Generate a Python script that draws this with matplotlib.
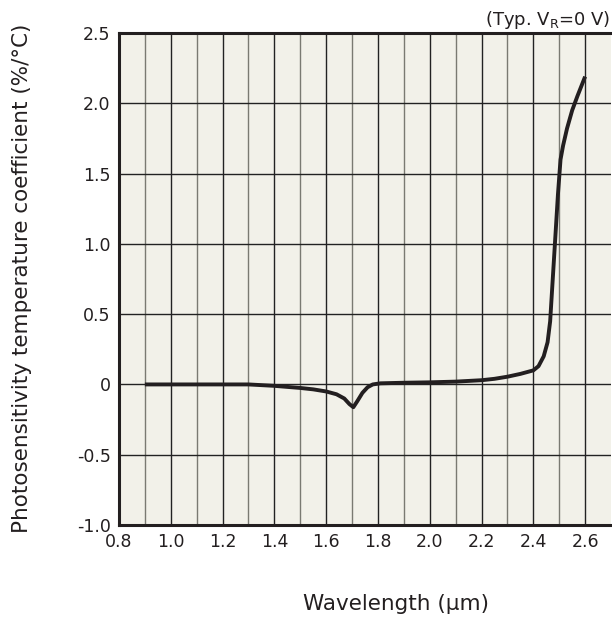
import matplotlib
matplotlib.use("Agg")
import matplotlib.pyplot as plt
import numpy as np

# curve
wavelength = [0.90, 1.00, 1.10, 1.20, 1.30, 1.40, 1.50, 1.55, 1.60, 1.64, 1.67, 1.69, 1.705,
              1.72, 1.74, 1.76, 1.78, 1.81, 1.90, 2.00, 2.10, 2.20, 2.25, 2.30, 2.35, 2.40,
              2.42, 2.44, 2.455, 2.465, 2.475, 2.485, 2.495, 2.505, 2.515, 2.53, 2.55,
              2.57, 2.585, 2.60]
coef = [0.0, 0.0, 0.0, 0.0, 0.0, -0.01, -0.025, -0.035, -0.05, -0.07, -0.10, -0.14, -0.162,
        -0.12, -0.06, -0.02, 0.0, 0.008, 0.012, 0.015, 0.02, 0.03, 0.04, 0.055, 0.075, 0.10,
        0.13, 0.20, 0.30, 0.45, 0.75, 1.05, 1.35, 1.60, 1.70, 1.82, 1.95,
        2.05, 2.12, 2.19]

xticks = [0.8, 1.0, 1.2, 1.4, 1.6, 1.8, 2.0, 2.2, 2.4, 2.6]
yticks = [-1.0, -0.5, 0, 0.5, 1.0, 1.5, 2.0, 2.5]
ylabels = ["-1.0", "-0.5", "0", "0.5", "1.0", "1.5", "2.0", "2.5"]

fig = plt.figure(figsize=(6.12, 6.23), dpi=100)
ax = fig.add_axes([0.1944, 0.1573, 0.804, 0.7897])
ax.set_facecolor("#f2f1e9")
ax.set_xlim(0.8, 2.7)
ax.set_ylim(-1.0, 2.5)

for i, xv in enumerate(np.arange(0.9, 2.65, 0.1)):
    col = "#7a7a72" if i % 2 == 0 else "#222222"
    ax.axvline(xv, color=col, lw=1.0, zorder=1)
for yv in np.arange(-0.5, 2.5, 0.5):
    ax.axhline(yv, color="#222222", lw=1.0, zorder=1)

ax.plot(wavelength, coef, color="#231f20", lw=2.8, zorder=3, solid_capstyle="butt")

ax.set_xticks(xticks)
ax.set_xticklabels([f"{v:.1f}" for v in xticks])
ax.set_yticks(yticks)
ax.set_yticklabels(ylabels)
ax.tick_params(length=0, labelsize=12.5, pad=6, colors="#231f20")

for s in ["left", "bottom", "top"]:
    ax.spines[s].set_linewidth(2.2)
    ax.spines[s].set_color("#231f20")
ax.spines["right"].set_visible(False)

fig.text(0.647, 0.031, "Wavelength (µm)", ha="center", va="center", fontsize=15.5, color="#231f20")
fig.text(0.036, 0.553, "Photosensitivity temperature coefficient (%/°C)", rotation=90,
         ha="center", va="center", fontsize=15.5, color="#231f20")
fig.text(0.997, 0.968, r"(Typ. V$_\mathregular{R}$=0 V)", ha="right", va="center",
         fontsize=13, color="#231f20")

fig.savefig("out.png", dpi=100)
